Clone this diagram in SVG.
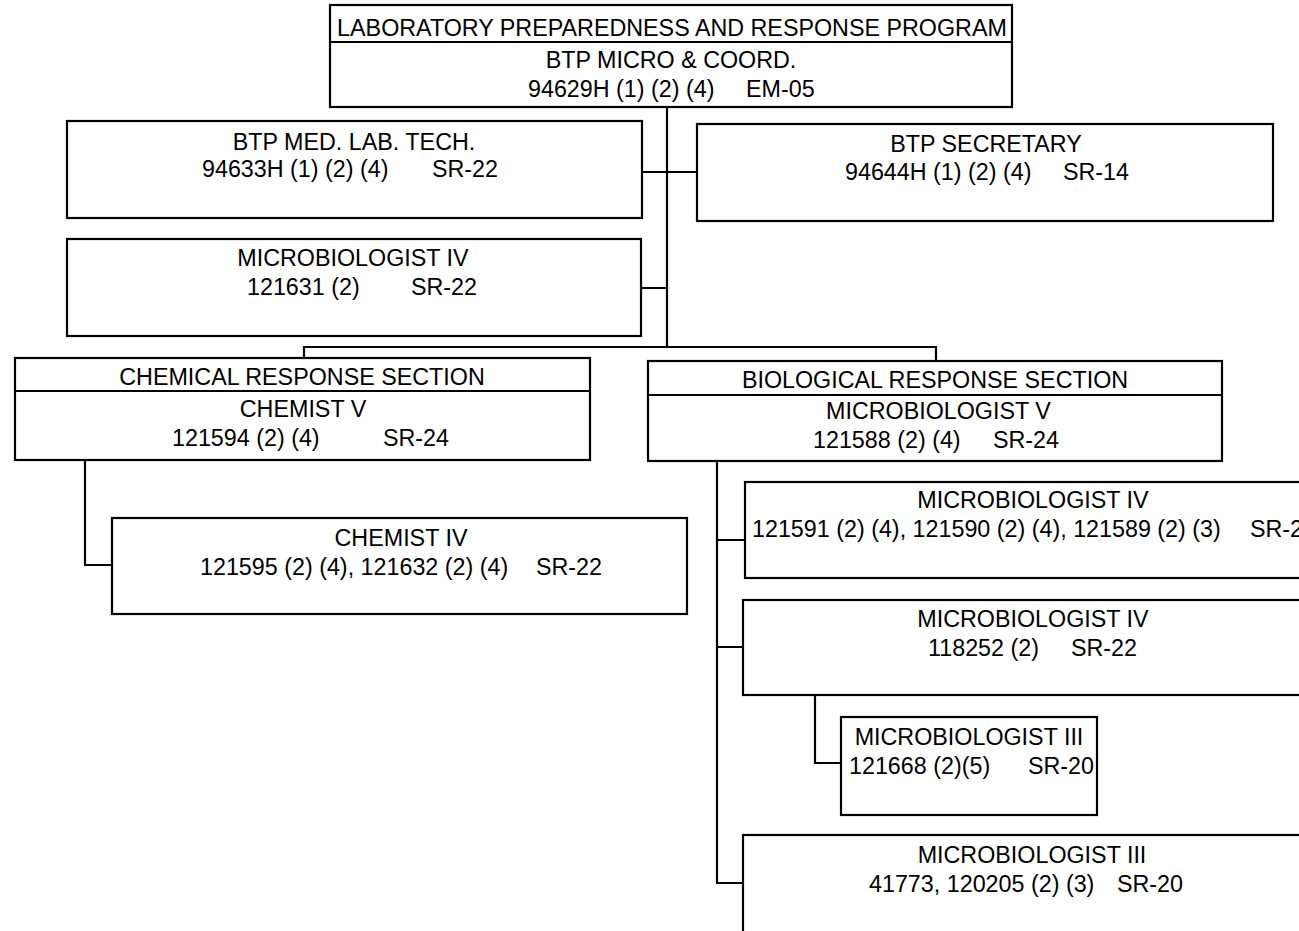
<svg xmlns="http://www.w3.org/2000/svg" width="1299" height="931" viewBox="0 0 1299 931">
<style>
.b{fill:#fff;stroke:#000;stroke-width:2.2}
.d{stroke:#000;stroke-width:2}
.c{fill:none;stroke:#000;stroke-width:2.2}
text{font-family:"Liberation Sans",Arial,sans-serif;font-size:23.3px;fill:#000}
.m{text-anchor:middle}
</style>
<rect width="1299" height="931" fill="#fff"/>
<g id="connectors">
<path class="c" d="M667,107V347M642,172H697M641,288H667M304,358V347H936V361"/>
<path class="c" d="M85,460V565H112"/>
<path class="c" d="M717,461V883H743M717,540H745M717,647H743"/>
<path class="c" d="M815,695V763H841"/>
</g>
<g id="program">
<rect class="b" x="330" y="5" width="682" height="102"/>
<line class="d" x1="330" y1="42" x2="1012" y2="42"/>
<text class="m" x="672" y="36">LABORATORY PREPAREDNESS AND RESPONSE PROGRAM</text>
<text class="m" x="671" y="68">BTP MICRO &amp; COORD.</text>
<text x="528" y="97">94629H (1) (2) (4)</text><text x="746" y="97">EM-05</text>
</g>
<g id="medlabtech">
<rect class="b" x="67" y="121" width="575" height="97"/>
<text class="m" x="354" y="150">BTP MED. LAB. TECH.</text>
<text x="202" y="177">94633H (1) (2) (4)</text><text x="432" y="177">SR-22</text>
</g>
<g id="secretary">
<rect class="b" x="697" y="124" width="576" height="97"/>
<text class="m" x="986" y="152">BTP SECRETARY</text>
<text x="845" y="180">94644H (1) (2) (4)</text><text x="1063" y="180">SR-14</text>
</g>
<g id="micro4-121631">
<rect class="b" x="67" y="239" width="574" height="97"/>
<text class="m" x="353" y="266">MICROBIOLOGIST IV</text>
<text x="247" y="295">121631 (2)</text><text x="411" y="295">SR-22</text>
</g>
<g id="chemical">
<rect class="b" x="15" y="358" width="575" height="102"/>
<line class="d" x1="15" y1="391" x2="590" y2="391"/>
<text class="m" x="302" y="385">CHEMICAL RESPONSE SECTION</text>
<text class="m" x="303" y="417">CHEMIST V</text>
<text x="172" y="446">121594  (2) (4)</text><text x="383" y="446">SR-24</text>
</g>
<g id="chemist4">
<rect class="b" x="112" y="518" width="575" height="96"/>
<text class="m" x="401" y="546">CHEMIST IV</text>
<text x="200" y="575">121595 (2) (4), 121632 (2) (4)</text><text x="536" y="575">SR-22</text>
</g>
<g id="biological">
<rect class="b" x="648" y="361" width="574" height="100"/>
<line class="d" x1="648" y1="395" x2="1222" y2="395"/>
<text class="m" x="935" y="388">BIOLOGICAL RESPONSE SECTION</text>
<text x="826" y="419">MICROBIOLOGIST V</text>
<text x="813" y="448">121588 (2) (4)</text><text x="993" y="448">SR-24</text>
</g>
<g id="micro4-a">
<rect class="b" x="745" y="482" width="570" height="96"/>
<text class="m" x="1033" y="508">MICROBIOLOGIST IV</text>
<text x="752" y="537">121591 (2) (4), 121590 (2) (4), 121589 (2) (3)</text><text x="1250" y="537">SR-22</text>
</g>
<g id="micro4-b">
<rect class="b" x="743" y="600" width="572" height="95"/>
<text class="m" x="1033" y="627">MICROBIOLOGIST IV</text>
<text x="928" y="656">118252 (2)</text><text x="1071" y="656">SR-22</text>
</g>
<g id="micro3-a">
<rect class="b" x="841" y="717" width="256" height="98"/>
<text class="m" x="969" y="745">MICROBIOLOGIST III</text>
<text x="849" y="774">121668 (2)(5)</text><text x="1028" y="774">SR-20</text>
</g>
<g id="micro3-b">
<rect class="b" x="743" y="835" width="572" height="110"/>
<text class="m" x="1032" y="863">MICROBIOLOGIST III</text>
<text x="869" y="892">41773, 120205 (2) (3)</text><text x="1117" y="892">SR-20</text>
</g>
</svg>
